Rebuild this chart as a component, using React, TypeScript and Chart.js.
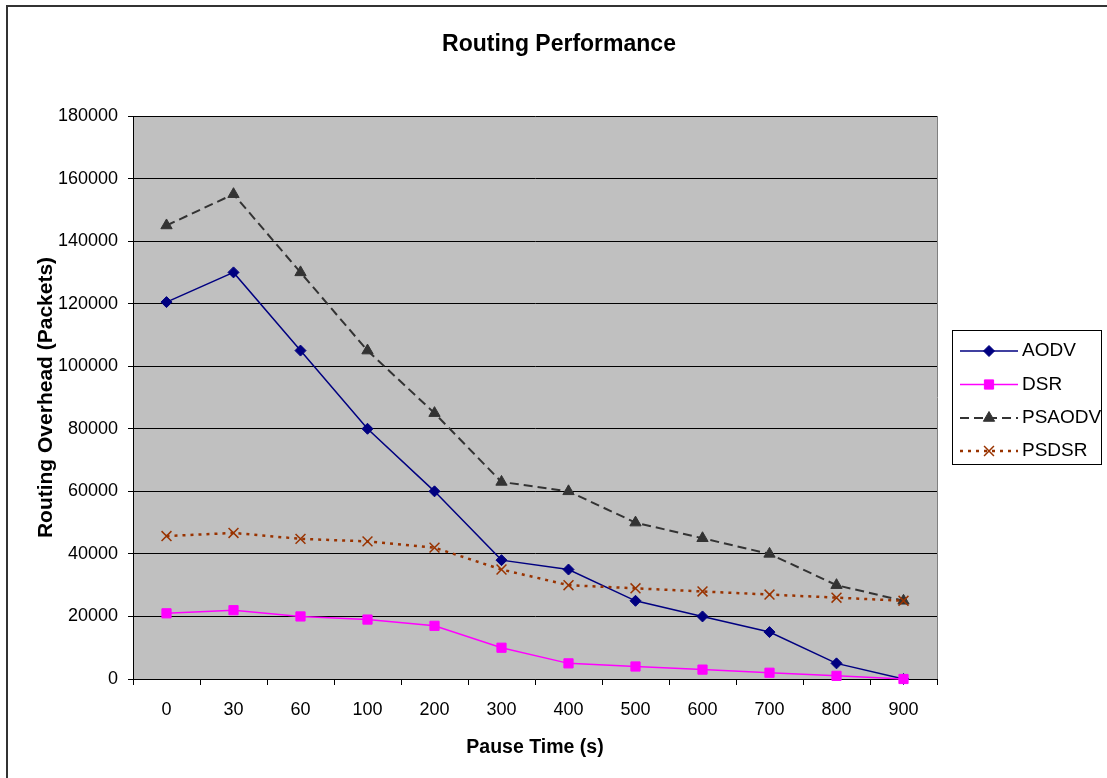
import React, { useEffect, useRef } from 'react';
import { Chart, registerables } from 'chart.js';
import { drawPoint } from 'chart.js/helpers';

Chart.register(...registerables);

const TITLE = 'Routing Performance';
const X_TITLE = 'Pause Time (s)';
const Y_TITLE = 'Routing Overhead (Packets)';

const pauseTimes = ['0', '30', '60', '100', '200', '300', '400', '500', '600', '700', '800', '900'];
const seriesNames = ['AODV', 'DSR', 'PSAODV', 'PSDSR'];
const aodv = [120500, 130000, 105000, 80000, 60000, 38000, 35000, 25000, 20000, 15000, 5000, 0];
const dsr = [21000, 22000, 20000, 19000, 17000, 10000, 5000, 4000, 3000, 2000, 1000, 0];
const psaodv = [145000, 155000, 130000, 105000, 85000, 63000, 60000, 50000, 45000, 40000, 30000, 25000];
const psdsr = [45700, 46700, 44800, 44000, 42000, 35000, 30000, 29000, 28000, 27000, 26000, 25000];
const yMin = 0;
const yMax = 180000;
const yStep = 20000;

const FONT = "'Liberation Sans', Arial, sans-serif";

const frameAndLegend = {
  id: 'frameAndLegend',
  beforeDraw(chart: any) {
    const { ctx, chartArea } = chart;
    ctx.save();
    ctx.fillStyle = '#ffffff';
    ctx.fillRect(0, 0, chart.width, chart.height);
    ctx.fillStyle = '#C0C0C0';
    ctx.fillRect(chartArea.left, chartArea.top, chartArea.right - chartArea.left, chartArea.bottom - chartArea.top);
    ctx.restore();
  },
  afterDraw(chart: any) {
    const { ctx, chartArea } = chart;
    ctx.save();
    // plot area right border
    ctx.strokeStyle = '#808080';
    ctx.lineWidth = 1;
    ctx.beginPath();
    ctx.moveTo(chartArea.right + 0.5, chartArea.top);
    ctx.lineTo(chartArea.right + 0.5, chartArea.bottom);
    ctx.stroke();
    // outer frame
    ctx.strokeStyle = '#333333';
    ctx.lineWidth = 2;
    ctx.beginPath();
    ctx.moveTo(7, chart.height + 2);
    ctx.lineTo(7, 6);
    ctx.lineTo(chart.width + 2, 6);
    ctx.stroke();
    // title
    ctx.fillStyle = '#000';
    ctx.font = `bold 23px ${FONT}`;
    ctx.textAlign = 'center';
    ctx.textBaseline = 'middle';
    ctx.fillText(TITLE, 559, 45);
    // legend
    ctx.strokeStyle = '#000';
    ctx.lineWidth = 1;
    ctx.strokeRect(952.5, 330.5, 149, 134);
    const rows = [351, 384.5, 418, 451];
    chart.data.datasets.forEach((ds: any, i: number) => {
      const y = rows[i];
      ctx.save();
      ctx.strokeStyle = ds.borderColor;
      ctx.lineWidth = ds.borderWidth;
      ctx.setLineDash(ds.borderDash || []);
      ctx.beginPath();
      ctx.moveTo(960, y);
      ctx.lineTo(1018, y);
      ctx.stroke();
      ctx.setLineDash([]);
      ctx.fillStyle = ds.pointBackgroundColor;
      ctx.strokeStyle = ds.pointBorderColor;
      ctx.lineWidth = ds.pointBorderWidth;
      drawPoint(ctx, { pointStyle: ds.pointStyle, radius: ds.pointRadius, borderWidth: ds.pointBorderWidth, rotation: 0 }, 989, y);
      ctx.restore();
      ctx.fillStyle = '#000';
      ctx.font = `19px ${FONT}`;
      ctx.textAlign = 'left';
      ctx.textBaseline = 'middle';
      ctx.fillText(ds.label, 1022, y);
    });
    ctx.restore();
  },
};

export default function App() {
  const ref = useRef<HTMLCanvasElement>(null);
  useEffect(() => {
    if (!ref.current) return;
    const chart = new Chart(ref.current, {
      type: 'line',
      data: {
        labels: pauseTimes,
        datasets: [
          {
            label: seriesNames[0], data: aodv, order: 3,
            borderColor: '#000080', borderWidth: 1.5,
            pointStyle: 'rectRot', pointRadius: 5.5, pointBackgroundColor: '#000080', pointBorderColor: '#000080', pointBorderWidth: 1,
            clip: false, tension: 0,
          },
          {
            label: seriesNames[1], data: dsr, order: 2,
            borderColor: '#FF00FF', borderWidth: 1.5,
            pointStyle: 'rect', pointRadius: 6.5, pointBackgroundColor: '#FF00FF', pointBorderColor: '#FF00FF', pointBorderWidth: 1,
            clip: false, tension: 0,
          },
          {
            label: seriesNames[2], data: psaodv, order: 1,
            borderColor: '#333333', borderWidth: 2, borderDash: [9, 5],
            pointStyle: 'triangle', pointRadius: 6.5, pointBackgroundColor: '#333333', pointBorderColor: '#333333', pointBorderWidth: 1,
            clip: false, tension: 0,
          },
          {
            label: seriesNames[3], data: psdsr, order: 0,
            borderColor: '#993300', borderWidth: 2.5, borderDash: [3, 5],
            pointStyle: 'crossRot', pointRadius: 7, pointBackgroundColor: '#993300', pointBorderColor: '#993300', pointBorderWidth: 1.5,
            clip: false, tension: 0,
          },
        ] as any,
      },
      options: {
        animation: false,
        responsive: false,
        maintainAspectRatio: false,
        layout: { padding: { left: 0, top: 116, right: 170, bottom: 0 } },
        plugins: {
          legend: { display: false },
          title: { display: false },
          tooltip: { enabled: false },
        },
        scales: {
          x: {
            type: 'category',
            offset: true,
            grid: { offset: true, drawOnChartArea: false, drawTicks: true, tickLength: 6, color: '#000', lineWidth: 1 },
            border: { color: '#000', width: 1 },
            ticks: { font: { size: 18, family: FONT }, color: '#000', padding: 14, maxRotation: 0, autoSkip: false },
            title: {
              display: true, text: X_TITLE, color: '#000',
              font: { size: 19.5, weight: 'bold', family: FONT, lineHeight: 1.2 },
              padding: { top: 0, bottom: 19 },
            },
            afterFit: (s: any) => { s.height = 99; },
          },
          y: {
            min: yMin, max: yMax,
            grid: { color: '#000', lineWidth: 1, drawTicks: true, tickLength: 5 },
            border: { color: '#000', width: 1 },
            ticks: { stepSize: yStep, font: { size: 18, family: FONT }, color: '#000', padding: 10, callback: (v: any) => String(v) },
            title: {
              display: true, text: Y_TITLE, color: '#000',
              font: { size: 21, weight: 'bold', family: FONT, lineHeight: 1.2 },
              padding: { top: 34, bottom: 0 },
            },
            afterFit: (s: any) => { s.width = 133; },
          },
        },
      } as any,
      plugins: [frameAndLegend],
    });
    return () => chart.destroy();
  }, []);
  return (
    <div style={{ position: 'absolute', left: 0, top: 0, width: 1107, height: 778, background: '#fff' }}>
      <canvas ref={ref} width={1107} height={778} style={{ display: 'block', width: 1107, height: 778 }} />
    </div>
  );
}
